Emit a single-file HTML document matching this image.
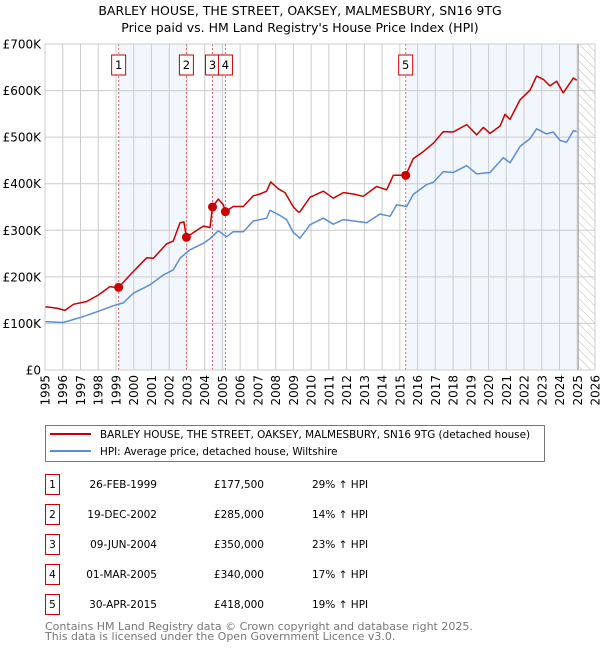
<!DOCTYPE html>
<html><head><meta charset="utf-8"><style>
body{margin:0;background:#fff;width:600px;height:650px;overflow:hidden;font-family:"DejaVu Sans","Liberation Sans",sans-serif;}
svg{position:absolute;left:0;top:0}
</style></head><body>
<svg id="c" width="600" height="650"></svg>
<script>
const redYears=[1995,1995.66,1996.13,1996.6,1997.35,1998.01,1998.66,1999.04,1999.16,1999.79,2000.73,2001.11,2001.86,2002.23,2002.61,2002.83,2002.97,2003.36,2003.92,2004.3,2004.44,2004.77,2005.05,2005.17,2005.61,2006.18,2006.74,2007.12,2007.49,2007.72,2008.15,2008.53,2009.0,2009.28,2009.37,2009.94,2010.69,2011.25,2011.82,2012.38,2012.94,2013.69,2014.26,2014.63,2015.2,2015.33,2015.76,2016.32,2016.89,2017.45,2018.01,2018.77,2019.33,2019.71,2020.08,2020.65,2020.93,2021.21,2021.77,2022.34,2022.71,2023.09,2023.46,2023.84,2024.21,2024.78,2024.97];
const redValues=[136,133,128,141,147,161,179,177,177.5,204,241,240,271,277,316,318,285,295,309,306,350,367,355,340,351,351,374,378,384,404,389,381,350,339,340,371,384,369,381,378,373,394,387,418,418,418,454,469,487,512,511,527,505,521,508,524,549,538,580,601,631,624,610,620,595,627,622];
const hpiYears=[1995,1996.03,1997.01,1998.01,1998.85,1999.41,1999.98,2000.92,2001.67,2002.23,2002.61,2003.17,2003.92,2004.3,2004.77,2005.24,2005.61,2006.18,2006.74,2007.49,2007.68,2008.24,2008.62,2009.0,2009.37,2009.94,2010.69,2011.25,2011.82,2012.57,2013.13,2013.88,2014.45,2014.82,2015.38,2015.76,2016.51,2016.89,2017.45,2018.01,2018.77,2019.33,2020.08,2020.83,2021.21,2021.77,2022.34,2022.71,2023.28,2023.65,2024.03,2024.4,2024.78,2024.97];
const hpiValues=[104,102,113,126,138,144,165,183,204,215,240,258,272,282,299,286,297,297,320,326,343,332,323,295,283,312,326,313,323,319,316,335,330,355,351,377,398,403,426,424,439,421,424,456,445,480,497,518,507,511,493,489,514,512];
const saleYears=[1999.15,2002.97,2004.44,2005.17,2015.33];
const saleValues=[177.5,285,350,340,418];
const saleLabels=["1","2","3","4","5"];
const yTicks=[0,100,200,300,400,500,600,700];
const yTickLabels=["£0","£100K","£200K","£300K","£400K","£500K","£600K","£700K"];
const xTicks=[1995,1996,1997,1998,1999,2000,2001,2002,2003,2004,2005,2006,2007,2008,2009,2010,2011,2012,2013,2014,2015,2016,2017,2018,2019,2020,2021,2022,2023,2024,2025,2026];
const saleDates=["26-FEB-1999","19-DEC-2002","09-JUN-2004","01-MAR-2005","30-APR-2015"];
const salePrices=["£177,500","£285,000","£350,000","£340,000","£418,000"];
const salePct=["29% ↑ HPI","14% ↑ HPI","23% ↑ HPI","17% ↑ HPI","19% ↑ HPI"];

const L=45,R=595,T=44,B=370,x0=1995,x1=2026,yMax=700;
const sx=y=>L+(y-x0)/(x1-x0)*(R-L);
const sy=v=>B-v/yMax*(B-T);
const svg=document.getElementById('c');
const NS='http://www.w3.org/2000/svg';
function mk(tag,attrs,text){const e=document.createElementNS(NS,tag);for(const k in attrs)e.setAttribute(k,attrs[k]);if(text!==undefined)e.textContent=text;svg.appendChild(e);return e;}

let t=mk('text',{x:300,y:15,'text-anchor':'middle','font-size':'12.5',fill:'#000'},'BARLEY HOUSE, THE STREET, OAKSEY, MALMESBURY, SN16 9TG');


t=mk('text',{x:300,y:32,'text-anchor':'middle','font-size':'12.5',fill:'#000'},"Price paid vs. HM Land Registry's House Price Index (HPI)");



const shades=[[saleYears[0],saleYears[1]],[saleYears[2],saleYears[3]],[saleYears[4],2025.0]];
shades.forEach(s=>{const r=mk('rect',{x:sx(s[0]),y:T,width:sx(s[1])-sx(s[0]),height:B-T,fill:'#edf2fc',opacity:'0.7'});

});
const defs=document.createElementNS(NS,'defs');defs.innerHTML='<pattern id="h" width="6" height="6" patternUnits="userSpaceOnUse" patternTransform="rotate(-45)"><line x1="0" y1="0" x2="0" y2="6" stroke="#bbb" stroke-width="1"/></pattern>';svg.appendChild(defs);
let hz=mk('rect',{x:sx(2025.05),y:T,width:R-sx(2025.05),height:B-T,fill:'url(#h)'});



xTicks.forEach(y=>{const l=mk('line',{x1:sx(y),x2:sx(y),y1:T,y2:B,stroke:'#ccc','stroke-width':1});


const px=sx(y)+4.5,py=375;
const tx=mk('text',{x:px,y:py,'text-anchor':'end','font-size':'12',fill:'#000',transform:'rotate(-90 '+px+' '+py+')'},String(y));

});
yTicks.forEach((v,i)=>{const l=mk('line',{x1:L,x2:R,y1:sy(v),y2:sy(v),stroke:'#ccc','stroke-width':1});


const tx=mk('text',{x:41,y:sy(v)+4.5,'text-anchor':'end','font-size':'12',fill:'#000'},yTickLabels[i]);

});
let fl=mk('line',{x1:sx(2025.05),x2:sx(2025.05),y1:T,y2:B,stroke:'#999','stroke-width':1});



saleYears.forEach((y,i)=>{const l=mk('line',{x1:sx(y),x2:sx(y),y1:T,y2:B,stroke:'#e66','stroke-width':1,'stroke-dasharray':'2,2'});


const bx=mk('rect',{x:sx(y)-7,y:55,width:14,height:20,fill:'#fff',stroke:'#c00','stroke-width':1});


const tx=mk('text',{x:sx(y),y:69,'text-anchor':'middle','font-size':'11.5',fill:'#000'},saleLabels[i]);

});

function line(xs,vs,col,name){const d=xs.map((y,i)=>(i?'L':'M')+sx(y).toFixed(1)+','+sy(vs[i]).toFixed(1)).join('');
const p=mk('path',{d:d,fill:'none',stroke:col,'stroke-width':1.5,'stroke-linejoin':'round'});

}
line(hpiYears,hpiValues,'#5b8ed6','hpi-line');
line(redYears,redValues,'#cc0000','property-price-line');
saleYears.forEach((y,i)=>{const c=mk('circle',{cx:sx(y),cy:sy(saleValues[i]),r:4.5,fill:'#cc0000'});

});
let ax=mk('rect',{x:L,y:T,width:R-L,height:B-T,fill:'none',stroke:'#ccc'});



let lg=mk('rect',{x:45.5,y:425.5,width:499,height:36,fill:'#fff',stroke:'#777'});


let l1=mk('line',{x1:50,x2:91,y1:434,y2:434,stroke:'#cc0000','stroke-width':2});


let l2=mk('line',{x1:50,x2:91,y1:451,y2:451,stroke:'#5b8ed6','stroke-width':2});


t=mk('text',{x:100,y:438,'font-size':'10.4',fill:'#000'},'BARLEY HOUSE, THE STREET, OAKSEY, MALMESBURY, SN16 9TG (detached house)');


t=mk('text',{x:100,y:455,'font-size':'10.4',fill:'#000'},'HPI: Average price, detached house, Wiltshire');



saleLabels.forEach((s,i)=>{const cy=484+i*30;
const b=mk('rect',{x:45.5,y:cy-9.5,width:14,height:20,fill:'#fff',stroke:'#c00'});


let e=mk('text',{x:52.5,y:cy+4,'text-anchor':'middle','font-size':'10.5',fill:'#000'},s);


e=mk('text',{x:157,y:cy+4,'text-anchor':'end','font-size':'10.5',fill:'#000'},saleDates[i]);


e=mk('text',{x:264,y:cy+4,'text-anchor':'end','font-size':'10.5',fill:'#000'},salePrices[i]);


e=mk('text',{x:312,y:cy+4,'font-size':'10.5',fill:'#000'},salePct[i]);

});

t=mk('text',{x:45,y:630,'font-size':'11',fill:'#777'},'Contains HM Land Registry data © Crown copyright and database right 2025.');


t=mk('text',{x:45,y:640,'font-size':'11',fill:'#777'},'This data is licensed under the Open Government Licence v3.0.');


</script>
</body></html>
